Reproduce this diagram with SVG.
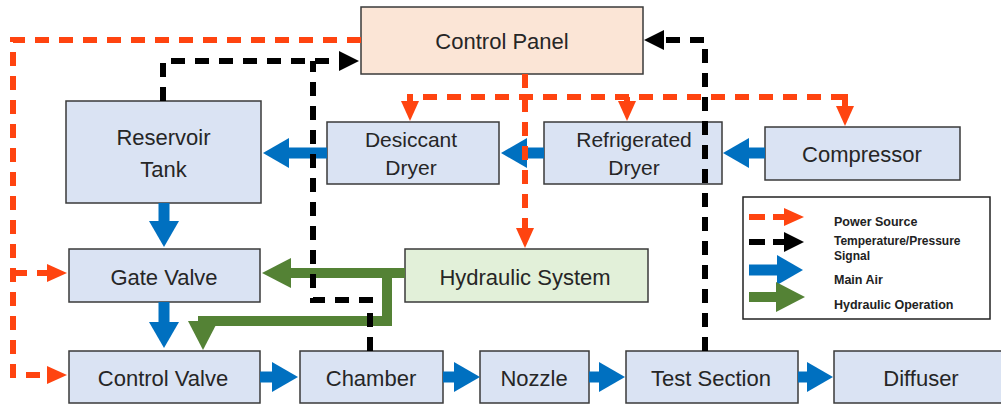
<svg xmlns="http://www.w3.org/2000/svg" width="1001" height="408" viewBox="0 0 1001 408">
<style>
.box{stroke:#3a3a3a;stroke-width:1.5}
.blue{fill:#DAE3F3}
.peach{fill:#FBE5D6}
.grn{fill:#E2F0D9}
.t{font-family:"Liberation Sans",Arial,sans-serif;font-size:22px;fill:#262626;text-anchor:middle}
.lt{font-family:"Liberation Sans",Arial,sans-serif;font-size:12.5px;font-weight:bold;fill:#222}
.pw{fill:none;stroke:#FF4410;stroke-width:6;stroke-dasharray:14 10}
.sg{fill:none;stroke:#000;stroke-width:6;stroke-dasharray:14 10}
.air{fill:none;stroke:#0070C0;stroke-width:11}
.hyd{fill:none;stroke:#548235;stroke-width:10}
</style>
<defs>
<marker id="mo" markerUnits="userSpaceOnUse" markerWidth="20" markerHeight="18" viewBox="0 0 20 18" refX="1" refY="9" orient="auto"><path d="M0,0 L20,9 L0,18 z" fill="#FF4410"/></marker>
<marker id="mk" markerUnits="userSpaceOnUse" markerWidth="20" markerHeight="20" viewBox="0 0 20 20" refX="1" refY="10" orient="auto"><path d="M0,0 L20,10 L0,20 z" fill="#000"/></marker>
<marker id="mb" markerUnits="userSpaceOnUse" markerWidth="26" markerHeight="30" viewBox="0 0 26 30" refX="1" refY="15" orient="auto"><path d="M0,0 L26,15 L0,30 z" fill="#0070C0"/></marker>
<marker id="mg" markerUnits="userSpaceOnUse" markerWidth="29" markerHeight="30" viewBox="0 0 29 30" refX="1" refY="15" orient="auto"><path d="M0,0 L29,15 L0,30 z" fill="#548235"/></marker>
</defs>
<rect width="1001" height="408" fill="#fff"/>

<g id="control-panel"><rect class="box peach" x="361" y="7" width="282" height="67"/><text class="t" x="502" y="49">Control Panel</text></g>
<g id="reservoir-tank"><rect class="box blue" x="66" y="101" width="195" height="102"/><text class="t" x="163.5" y="145">Reservoir</text><text class="t" x="163.5" y="177">Tank</text></g>
<g id="desiccant-dryer"><rect class="box blue" x="327" y="122" width="172" height="62"/><text class="t" x="411" y="147" style="font-size:21px">Desiccant</text><text class="t" x="411" y="175" style="font-size:21px">Dryer</text></g>
<g id="refrigerated-dryer"><rect class="box blue" x="544" y="122" width="178" height="62"/><text class="t" x="634" y="147" style="font-size:21px">Refrigerated</text><text class="t" x="634" y="175" style="font-size:21px">Dryer</text></g>
<g id="compressor"><rect class="box blue" x="765" y="127" width="195" height="53"/><text class="t" x="862" y="162">Compressor</text></g>
<g id="gate-valve"><rect class="box blue" x="69" y="249" width="191" height="53"/><text class="t" x="164" y="285">Gate Valve</text></g>
<g id="hydraulic-system"><rect class="box grn" x="405" y="249" width="243" height="53"/><text class="t" x="525" y="285">Hydraulic System</text></g>
<g id="control-valve"><rect class="box blue" x="69" y="351" width="191" height="52"/><text class="t" x="163" y="386">Control Valve</text></g>
<g id="chamber"><rect class="box blue" x="300" y="351" width="143" height="52"/><text class="t" x="371" y="386">Chamber</text></g>
<g id="nozzle"><rect class="box blue" x="480" y="351" width="109" height="52"/><text class="t" x="534" y="386">Nozzle</text></g>
<g id="test-section"><rect class="box blue" x="626" y="351" width="172" height="52"/><text class="t" x="711" y="386">Test Section</text></g>
<g id="diffuser"><rect class="box blue" x="834" y="351" width="180" height="52"/><text class="t" x="921" y="386">Diffuser</text></g>

<g id="connectors">
<path class="air" d="M765,153 H748" marker-end="url(#mb)"/>
<path class="air" d="M544,153 H526" marker-end="url(#mb)"/>
<path class="air" d="M327,153 H288" marker-end="url(#mb)"/>
<path class="air" d="M164,203 V222" marker-end="url(#mb)"/>
<path class="air" d="M164,302 V323" marker-end="url(#mb)"/>
<path class="air" d="M260,377 H273" marker-end="url(#mb)"/>
<path class="air" d="M443,377 H455" marker-end="url(#mb)"/>
<path class="air" d="M589,377 H600" marker-end="url(#mb)"/>
<path class="air" d="M798,377 H808" marker-end="url(#mb)"/>
<path class="hyd" d="M405,273 H290" marker-end="url(#mg)"/>
<path class="hyd" d="M387,273 V321 H203 V322" marker-end="url(#mg)"/>
<path class="pw" d="M361,40 H13 V375 H48" marker-end="url(#mo)"/>
<path class="pw" d="M13,273 H48" marker-end="url(#mo)"/>
<path class="pw" d="M525,74 V229" marker-end="url(#mo)"/>
<path class="pw" d="M845,97 H410 V102" marker-end="url(#mo)"/>
<path class="pw" d="M627,97 V102" marker-end="url(#mo)"/>
<path class="pw" d="M845,94 V107" marker-end="url(#mo)"/>
<path class="sg" d="M163,101 V61 H340" marker-end="url(#mk)"/>
<path class="sg" d="M370,351 V300 H313 V61"/>
<path class="sg" d="M705,351 V40 H663" marker-end="url(#mk)"/>
</g>

<g id="legend">
<rect x="743" y="197" width="247" height="122" fill="#fff" stroke="#222" stroke-width="1.5"/>
<path d="M749,217 H785" fill="none" stroke="#FF4410" stroke-width="6" stroke-dasharray="16 8" marker-end="url(#mo)"/>
<path d="M749,242 H785" fill="none" stroke="#000" stroke-width="6" stroke-dasharray="16 8" marker-end="url(#mk)"/>
<path d="M749,270 H778" class="air" marker-end="url(#mb)"/>
<path d="M749,297 H777" class="hyd" marker-end="url(#mg)"/>
<text class="lt" x="834" y="226">Power Source</text>
<text class="lt" x="834" y="245" style="font-size:12px">Temperature/Pressure</text>
<text class="lt" x="834" y="260" style="font-size:12px">Signal</text>
<text class="lt" x="834" y="284">Main Air</text>
<text class="lt" x="834" y="309">Hydraulic Operation</text>
</g>
</svg>
